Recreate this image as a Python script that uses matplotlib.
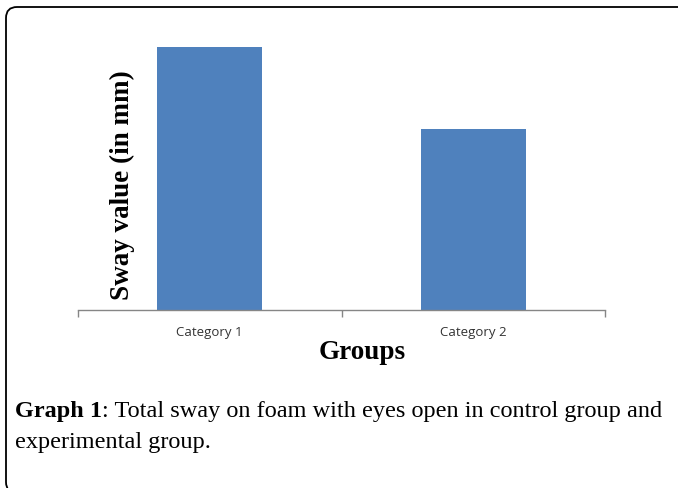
import matplotlib.pyplot as plt
from matplotlib.patches import FancyBboxPatch

# data (y scale is hidden, relative heights only)
categories = ["Category 1", "Category 2"]
sway_values = [38.0, 26.1]

bar_color = "#4F81BD"
W, H = 678, 489

fig = plt.figure(figsize=(W / 100, H / 100), dpi=100)

# rounded frame, right and bottom sides run off the edge
frame = FancyBboxPatch(
    (0.06, -0.05), 7.2, (H - 8) / 100 + 0.05,
    boxstyle="round,pad=0,rounding_size=0.11",
    transform=fig.dpi_scale_trans, fill=False, edgecolor="black", linewidth=1.3,
)
fig.patches.append(frame)

ax = fig.add_axes([78 / W, 1 - 311 / H, (605 - 78) / W, (311 - 34) / H])
x = range(len(categories))
ax.bar(x, sway_values, width=0.4, color=bar_color)
ax.set_xlim(-0.5, 1.5)
ax.set_ylim(0, 40)

for side in ["top", "right", "left"]:
    ax.spines[side].set_visible(False)
ax.spines["bottom"].set_color("#868686")
ax.spines["bottom"].set_linewidth(1.0)
ax.set_yticks([])
ax.set_xticks([-0.5, 0.5, 1.5])
ax.set_xticklabels([])
ax.tick_params(axis="x", length=5, color="#868686", width=1.0)
ax.set_xticks(list(x), minor=True)
ax.set_xticklabels(categories, minor=True, fontsize=9.5, family="Open Sans", color="#333333")
ax.tick_params(axis="x", which="minor", length=0, pad=11)

ax.set_ylabel("Sway value (in mm)", fontsize=19.5, fontweight="bold", family="Liberation Serif")
ax.yaxis.set_label_coords((135 - 78) / 527, (311 - 185) / 277)

fig.text(362 / W, 1 - 353 / H, "Groups", fontsize=19.5, fontweight="bold",
         family="Liberation Serif", ha="center", va="center")

# caption: bold lead-in, then the rest right after it
lead = fig.text(15 / W, 1 - 417 / H, "Graph 1", fontsize=17.5, fontweight="bold",
                family="Liberation Serif", va="baseline")
fig.canvas.draw()
bb = lead.get_window_extent()
fig.text(bb.x1 / W, 1 - 417 / H, ": Total sway on foam with eyes open in control group and",
         fontsize=17.5, family="Liberation Serif", va="baseline")
fig.text(15 / W, 1 - 448 / H, "experimental group.", fontsize=17.5,
         family="Liberation Serif", va="baseline")

fig.savefig("out.png", dpi=100)
